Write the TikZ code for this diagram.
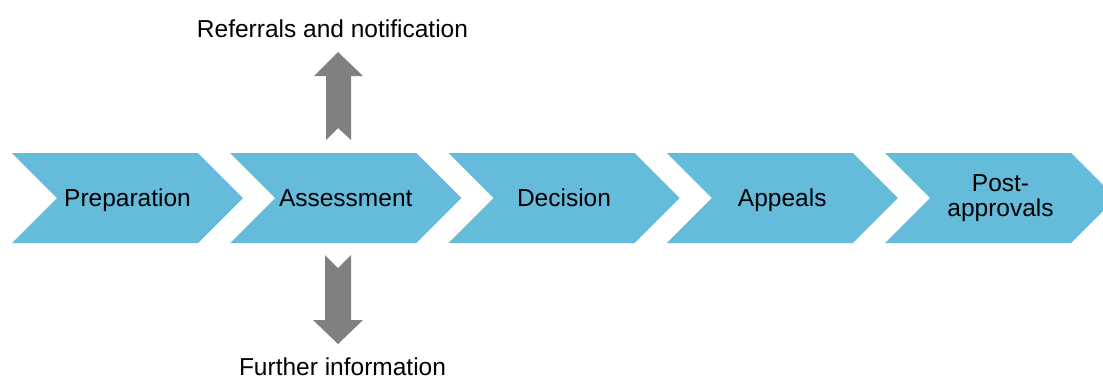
\documentclass[tikz,border=0pt]{standalone}
\usepackage{fontspec}
\setmainfont{Liberation Sans}
\definecolor{stageblue}{HTML}{65BBDA}
\definecolor{flowgray}{HTML}{808080}
\begin{document}
\begin{tikzpicture}[x=1pt,y=-1pt,
  stage/.style={fill=stageblue},
  blockarrow/.style={fill=flowgray},
  label/.style={inner sep=0pt,font=\fontsize{24.5}{25.5}\selectfont,text=black},
]
\clip (0,0) rectangle (1103,378);
\fill[white] (0,0) rectangle (1103,378);

% process chevrons
\foreach \i/\lbl in {0/Preparation,1/Assessment,2/Decision,3/Appeals,4/{}}{
  \pgfmathsetmacro\L{12+218.25*\i}
  \fill[stage] (\L,153) -- (\L+186,153) -- (\L+231,198) -- (\L+186,243)
    -- (\L,243) -- (\L+45,198) -- cycle;
  \node[label,anchor=base] (s\i) at (\L+115.5,206) {\lbl};
}
\node[label,align=center] (post) at (1000.5,198) {Post-\\approvals};

% block arrow up from the assessment stage
\fill[blockarrow] (338,52) -- (363,76) -- (351,76) -- (351,140) -- (338,128)
  -- (326,140) -- (326,76) -- (314,76) -- cycle;
\node[label,anchor=base] (ref) at (332.5,37) {Referrals and notification};

% block arrow down from the assessment stage
\fill[blockarrow] (338,344) -- (363,320) -- (351,320) -- (351,255) -- (338,268)
  -- (325,255) -- (325,320) -- (313,320) -- cycle;
\node[label,anchor=base,text depth=0pt] (info) at (342.5,375.5) {Further information};
\end{tikzpicture}
\end{document}
